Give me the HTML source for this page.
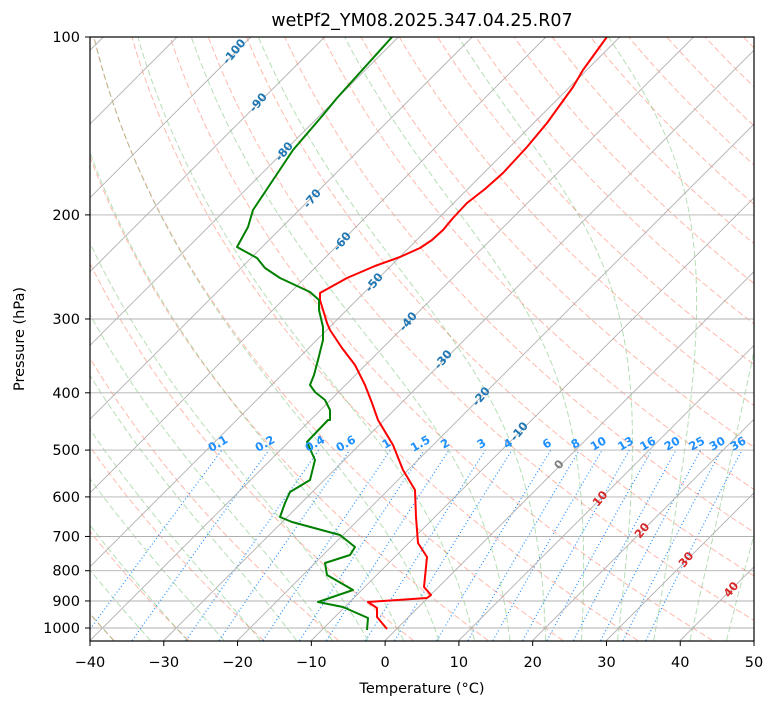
<!DOCTYPE html>
<html><head><meta charset="utf-8"><style>
body{margin:0;background:#fff;}
svg text{font-family:"DejaVu Sans","Liberation Sans",sans-serif;}
</style></head><body>
<svg id="s" width="775" height="708" xmlns="http://www.w3.org/2000/svg">
<defs><clipPath id="c"><rect x="90" y="37" width="664" height="604"/></clipPath></defs>
<rect width="775" height="708" fill="#fff"/>
<g id="bg" clip-path="url(#c)"></g>
<g clip-path="url(#c)">
<polyline fill="none" stroke="#ff0000" stroke-width="2" stroke-linejoin="round" points="609,34 596,52 583,70 573,87 560,105 547,123 527,147 503,173 485,189 467,203 453,218 443,230 432,240 420,248 400,257 375,266 347,278 320,293 320,300 327,323 330,330 342,348 355,365 365,385 372,403 378,420 393,445 403,470 415,490 416,517 418,543 427,557 424,587 431,595 427,598 368,602 377,608 377,617 387,629"/>
<polyline fill="none" stroke="#008000" stroke-width="2" stroke-linejoin="round" points="392,37 337,98 323,115 293,150 253,210 248,227 237,247 257,258 265,268 280,278 310,292 319,300 319,310 323,327 323,340 318,360 314,375 310,385 315,392 325,400 330,410 330,420 328,420 307,442 315,460 310,480 290,492 285,503 280,517 292,522 340,535 355,547 350,555 325,563 327,575 353,590 318,602 343,607 368,618 367,630"/>
</g>
<g id="lab" font-weight="bold" font-size="11.5"></g>
<rect x="90" y="37" width="664" height="604" fill="none" stroke="#000" stroke-width="1.2"/>
<g id="ax" font-size="14.5" fill="#000"></g>
<text x="422" y="26" font-size="17.5" text-anchor="middle">wetPf2_YM08.2025.347.04.25.R07</text>
<text x="422" y="693" font-size="14.5" text-anchor="middle">Temperature (°C)</text>
<text transform="translate(24,339) rotate(-90)" font-size="14.5" text-anchor="middle">Pressure (hPa)</text>
</svg>
<script>
const S=7.378;
function Y(p){return 37+591*Math.log10(p/100);}
function X(T,p){return 90+(T+40)*S+(640.5-Y(p));}
let bg='';
function pl(pts,st){return '<polyline fill="none" '+st+' points="'+pts.map(a=>a[0].toFixed(1)+','+a[1].toFixed(1)).join(' ')+'"/>';}
const ps=[];for(let p=1050;p>=100;p-=5)ps.push(p);
for(let t=-40;t<=230;t+=10){const th=t+273.15;bg+=pl(ps.map(p=>[X(th*Math.pow(p/1000,0.2857)-273.15,p),Y(p)]),'stroke="#ff6347" stroke-opacity="0.45" stroke-width="1" stroke-dasharray="6,3"');}
function es(T){return 6.112*Math.exp(17.67*T/(T+243.5));}
for(let t=-50;t<=45;t+=5){
 function integ(dir){let T=t+273.15,p=1000,arr=[];arr.push([X(T-273.15,p),Y(p)]);
  const end=dir<0?100:1050;const dp=dir<0?-2:2;
  while((dir<0&&p>end)||(dir>0&&p<end)){const e=es(T-273.15);const rs=0.622*e/(p-e);
   const d=(287*T+2.5e6*rs)/(1004+2.5e6*2.5e6*rs*0.622/(287*T*T))/p;T+=d*dp;p+=dp;arr.push([X(T-273.15,p),Y(p)]);}
  return arr;}
 const up=integ(-1),dn=integ(1);const pts=dn.reverse().concat(up);
 bg+=pl(pts,'stroke="#2ca02c" stroke-opacity="0.35" stroke-width="1" stroke-dasharray="6,3"');}
const ws=[0.1,0.2,0.4,0.6,1,1.5,2,3,4,6,8,10,13,16,20,25,30,36];
let lab='';
function Td(w,p){const e=p*w/(0.622+w);const l=Math.log(e/6.112);return 243.5*l/(17.67-l);}
ws.forEach(w=>{const W=w/1000;const pp=[];for(let p=1050;p>=500;p-=10)pp.push(p);
 bg+=pl(pp.map(p=>[X(Td(W,p),p),Y(p)]),'stroke="#1e90ff" stroke-width="1.2" stroke-dasharray="1,2.5"');
 const x=X(Td(W,500),500);lab+='<text fill="#1e90ff" transform="translate('+(x-2).toFixed(1)+',447) rotate(-30)" text-anchor="middle">'+w+'</text>';});
for(let t=-160;t<=50;t+=10){bg+=pl([[X(t,1050),Y(1050)],[X(t,100),Y(100)]],'stroke="#b0b0b0" stroke-width="0.9"');}
for(let p=100;p<=1000;p+=100){bg+=pl([[90,Y(p)],[754,Y(p)]],'stroke="#b0b0b0" stroke-width="0.9"');}
document.getElementById('bg').innerHTML=bg;
const iso=[[-100,237,50],[-90,261,101],[-80,287,150],[-70,315,197],[-60,345,240],[-50,377,281],[-40,411,320],[-30,446,358],[-20,484,395],[-10,522,430]];
iso.forEach(a=>{lab+='<text fill="#1f77b4" transform="translate('+a[1]+','+(a[2]+4)+') rotate(-50)" text-anchor="middle">'+a[0]+'</text>';});
[[0,562,463,'#808080'],[10,603,497,'#d62728'],[20,645,529,'#d62728'],[30,689,558,'#d62728'],[40,734,588,'#d62728']].forEach(a=>{lab+='<text fill="'+a[3]+'" transform="translate('+a[1]+','+(a[2]+4)+') rotate(-50)" text-anchor="middle">'+a[0]+'</text>';});
document.getElementById('lab').innerHTML=lab;
let ax='';
for(let t=-40;t<=50;t+=10){const x=90+(t+40)*S;ax+='<line x1="'+x+'" y1="641" x2="'+x+'" y2="646" stroke="#000"/><text x="'+x+'" y="667" text-anchor="middle">'+(t<0?'−'+(-t):t)+'</text>';}
for(let p=100;p<=1000;p+=100){const y=Y(p);ax+='<line x1="85" y1="'+y+'" x2="90" y2="'+y+'" stroke="#000"/><text x="80" y="'+(y+5)+'" text-anchor="end">'+p+'</text>';}
document.getElementById('ax').innerHTML=ax;
</script>
</body></html>
